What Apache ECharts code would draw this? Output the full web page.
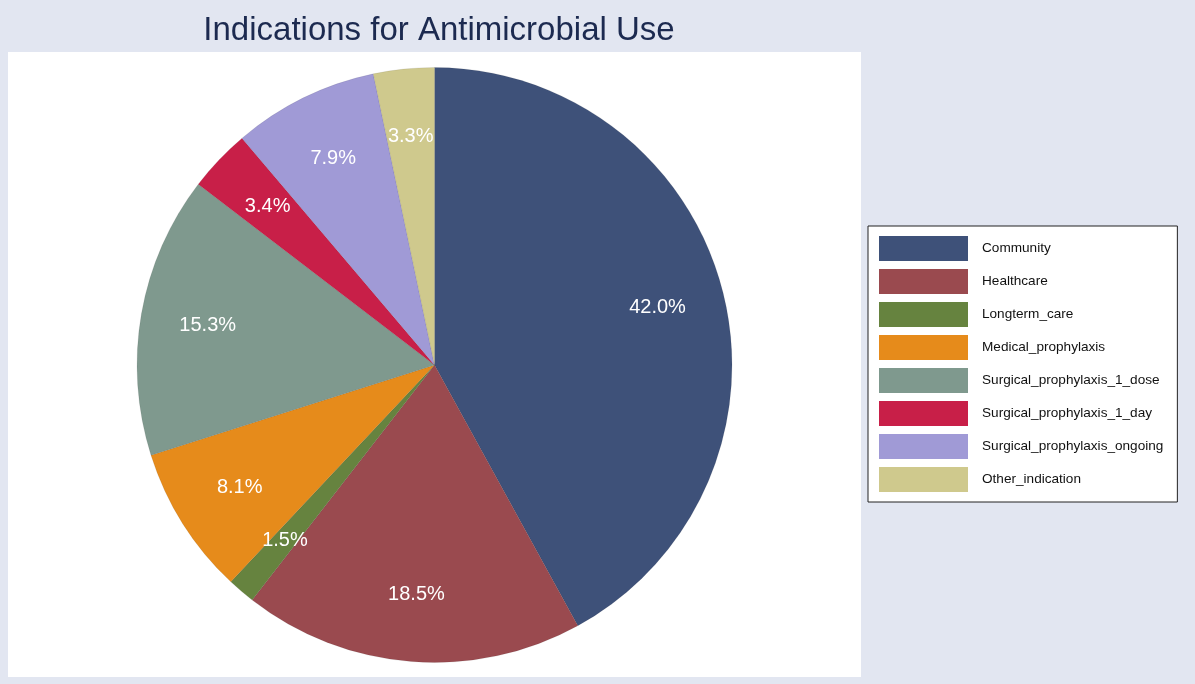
<!DOCTYPE html>
<html><head><meta charset="utf-8">
<script src="https://cdn.jsdelivr.net/npm/echarts@6/dist/echarts.min.js"></script>
<style>html,body{margin:0;padding:0;background:#e2e6f1;}#c{width:1195px;height:684px;}</style>
</head><body><div id="c"></div>
<script>
const categories = ["Community","Healthcare","Longterm_care","Medical_prophylaxis","Surgical_prophylaxis_1_dose","Surgical_prophylaxis_1_day","Surgical_prophylaxis_ongoing","Other_indication"];
const shares = [42.0, 18.5, 1.5, 8.1, 15.3, 3.4, 7.9, 3.3];
const colors = ["#3e5179","#9a4a4f","#66833f","#e68b1b","#7f998e","#c81f48","#a09ad6","#cfc98d"];

const data = categories.map((n,i)=>({name:n, value:shares[i], itemStyle:{color:colors[i]}}));
const chart = echarts.init(document.getElementById('c'));
chart.setOption({
  backgroundColor:'#e2e6f1',
  animation:false,
  title:{text:'Indications for Antimicrobial Use', left:434, textAlign:'center', top:9,
    textStyle:{fontFamily:'Liberation Sans', fontSize:33, fontWeight:'normal', color:'#1c2a50'}},
  graphic:[{type:'rect', z:-10, shape:{x:8,y:52,width:853,height:625}, style:{fill:'#ffffff'}}],
  legend:{orient:'vertical', left:868, top:226, itemWidth:89, itemHeight:25, itemGap:8,
    padding:[10,14,10,11], backgroundColor:'#fff', borderColor:'#222', borderWidth:1,
    icon:'rect', data:categories, selectedMode:false,
    itemStyle:{borderWidth:0},
    textStyle:{fontFamily:'Liberation Sans', fontSize:13.6, lineHeight:25, color:'#111', padding:[0,0,0,9]}},
  series:[
    {type:'pie', center:[434.5,365], radius:[0,297.5], startAngle:90, clockwise:true,
     data:data, label:{show:false}, labelLine:{show:false}, silent:true,
     itemStyle:{borderWidth:0.5, borderColor:'rgba(0,0,0,0.15)'}},
    {type:'pie', center:[434.5,365], radius:[157,297.5], startAngle:90, clockwise:true,
     data:data.map(d=>({name:d.name, value:d.value, itemStyle:{color:'rgba(0,0,0,0)'}})),
     silent:true, legendHoverLink:false,
     label:{show:true, position:'inside', formatter:p=>p.value.toFixed(1)+'%',
       fontFamily:'Liberation Sans', fontSize:20, color:'#fff', padding:[4,0,0,0]},
     labelLine:{show:false}}
  ]
});
</script></body></html>
